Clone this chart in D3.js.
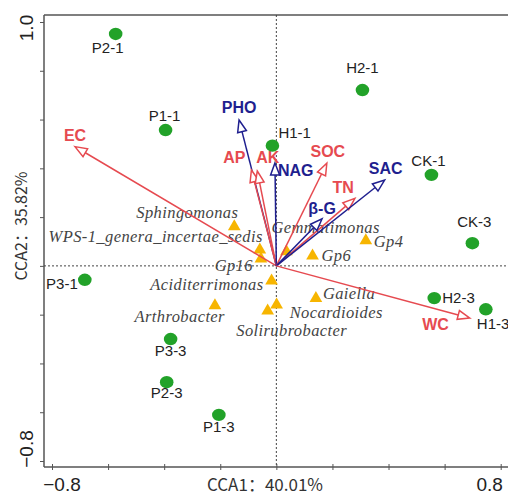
<!DOCTYPE html>
<html>
<head>
<meta charset="utf-8">
<script src="https://cdn.jsdelivr.net/npm/d3@7/dist/d3.min.js"></script>
<style>
body { margin: 0; background: #fff; }
</style>
</head>
<body>
<svg id="chart" width="508" height="495"></svg>
<script>
// samples (green dots)
const sites = ["P2-1", "P1-1", "H2-1", "H1-1", "CK-1", "CK-3", "P3-1", "P3-3", "P2-3", "P1-3", "H2-3", "H1-3"];
const siteCCA1 = [-0.573, -0.395, 0.307, -0.014, 0.553, 0.699, -0.683, -0.377, -0.391, -0.205, 0.563, 0.747];
const siteCCA2 = [0.951, 0.557, 0.721, 0.493, 0.373, 0.093, -0.057, -0.300, -0.477, -0.611, -0.132, -0.178];

// genera (orange triangles)
const genera = ["Sphingomonas", "WPS-1_genera_incertae_sedis", "Gp16", "Gemmatimonas", "Gp6", "Gp4",
  "Aciditerrimonas", "Gaiella", "Nocardioides", "Solirubrobacter", "Arthrobacter"];
const genusCCA1 = [-0.150, -0.059, -0.055, 0.036, 0.129, 0.319, -0.017, 0.141, 0.001, -0.031, -0.219];
const genusCCA2 = [0.161, 0.066, 0.029, 0.059, 0.041, 0.104, -0.061, -0.133, -0.160, -0.184, -0.163];

// environmental factors (arrows)
const factors = ["EC", "PHO", "AP", "AK", "NAG", "SOC", "TN", "β-G", "SAC", "WC"];
const factorCCA1 = [-0.718, -0.133, -0.089, -0.068, -0.005, 0.180, 0.280, 0.163, 0.386, 0.690];
const factorCCA2 = [0.489, 0.598, 0.393, 0.389, 0.422, 0.421, 0.277, 0.193, 0.352, -0.214];
const factorType = ["soil", "enzyme", "soil", "soil", "enzyme", "soil", "soil", "enzyme", "enzyme", "soil"];

const xTicks = [-0.8, -0.6, -0.4, -0.2, 0, 0.2, 0.4, 0.6, 0.8];
const yTicks = [-0.8, -0.6, -0.4, -0.2, 0, 0.2, 0.4, 0.6, 0.8, 1.0];
const xTitle = "CCA1：40.01%";
const yTitle = "CCA2：35.82%";

// label placement: [dx, dy, anchor]
const siteLabelPos = [[-8, 19, "middle"], [-1, -9, "middle"], [0, -17, "middle"], [6, -8, "start"],
  [-3, -9, "middle"], [2, -16, "middle"], [-7, 9, "end"], [0, 17, "middle"], [0, 16, "middle"],
  [0, 17, "middle"], [8, 5, "start"], [-9, 20, "start"]];
const genusLabelPos = [[4, -9, "end"], [3, -8, "end"], [-8, 12, "end"], [-15, -18, "start"], [9, 5, "start"],
  [8, 6, "start"], [-8, 9, "end"], [7, 1, "start"], [13, 13, "start"], [24, 25, "middle"], [10, 16, "end"]];
const factorLabelPos = [[0, -6, "middle"], [0, -7, "middle"], [-6, -7, "end"], [-1, -8, "start"],
  [3, 13, "start"], [1, -6, "middle"], [-1, -5, "end"], [0, -5, "middle"], [1, -6, "middle"], [-21, 12, "end"]];

const colors = { soil: "#e64a50", enzyme: "#1f1f8f", site: "#22a229", genus: "#f7b500" };

const plotLeft = 44, plotTop = 15, plotBottom = 467, plotRight = 508;

const svg = d3.select("#chart");

const x = d3.scaleLinear().domain([-0.8, 0.8]).range([52, 500.7]);
const y = d3.scaleLinear().domain([-0.8, 1.0]).range([461, 22]);

// axes
svg.append("g")
  .attr("transform", `translate(0,${plotBottom})`)
  .call(d3.axisBottom(x).tickValues(xTicks).tickSize(3).tickFormat(""))
  .call(g => g.select(".domain").attr("d", `M${plotLeft},0H${plotRight}`).attr("stroke", "#555").attr("stroke-width", 1.5))
  .call(g => g.selectAll(".tick line").attr("stroke", "#555").attr("y1", -3));

svg.append("g")
  .attr("transform", `translate(${plotLeft},0)`)
  .call(d3.axisLeft(y).tickValues(yTicks).tickSize(4).tickFormat(""))
  .call(g => g.select(".domain").attr("d", `M0,${plotTop}V${plotBottom}`).attr("stroke", "#555").attr("stroke-width", 1.5))
  .call(g => g.selectAll(".tick line").attr("stroke", "#555"));

svg.append("line")
  .attr("x1", plotLeft).attr("x2", plotRight).attr("y1", plotTop).attr("y2", plotTop)
  .attr("stroke", "#555").attr("stroke-width", 1.5);

// tick labels at the ends only
const tickFont = "'Liberation Sans', Arial, sans-serif";
[[xTicks[0], 10], [xTicks[xTicks.length - 1], -11]].forEach(([v, dx]) => {
  svg.append("text")
    .attr("x", x(v) + dx).attr("y", 491)
    .attr("text-anchor", "middle")
    .attr("font-family", tickFont).attr("font-size", 19).attr("fill", "#222")
    .text(d3.format(".1f")(v));
});
[[yTicks[yTicks.length - 1], 6], [yTicks[0], -12]].forEach(([v, dy]) => {
  svg.append("text")
    .attr("transform", `translate(33,${y(v) + dy}) rotate(-90)`)
    .attr("text-anchor", "middle")
    .attr("font-family", tickFont).attr("font-size", 19).attr("fill", "#222")
    .text(d3.format(".1f")(v));
});

// axis titles
svg.append("text")
  .attr("x", 265).attr("y", 491)
  .attr("text-anchor", "middle")
  .attr("font-family", "'Noto Sans CJK SC', sans-serif").attr("font-size", 17).attr("fill", "#333")
  .text(xTitle);
svg.append("text")
  .attr("transform", `translate(27,226) rotate(-90)`)
  .attr("text-anchor", "middle")
  .attr("font-family", "'Noto Sans CJK SC', sans-serif").attr("font-size", 16).attr("fill", "#333")
  .text(yTitle);

// zero lines
svg.append("line")
  .attr("x1", plotLeft).attr("x2", plotRight).attr("y1", y(0)).attr("y2", y(0))
  .attr("stroke", "#444").attr("stroke-dasharray", "2,2");
svg.append("line")
  .attr("x1", x(0)).attr("x2", x(0)).attr("y1", plotTop).attr("y2", plotBottom)
  .attr("stroke", "#444").attr("stroke-dasharray", "2,2");

// genera triangles
const tri = d3.symbol().type(d3.symbolTriangle).size(70);
const genusData = genera.map((name, i) => ({ name, cx: genusCCA1[i], cy: genusCCA2[i], pos: genusLabelPos[i] }));
svg.append("g").selectAll("path")
  .data(genusData)
  .join("path")
  .attr("transform", d => `translate(${x(d.cx)},${y(d.cy)})`)
  .attr("d", tri)
  .attr("fill", colors.genus);

svg.append("g").selectAll("text")
  .data(genusData)
  .join("text")
  .attr("x", d => x(d.cx) + d.pos[0])
  .attr("y", d => y(d.cy) + d.pos[1])
  .attr("text-anchor", d => d.pos[2])
  .attr("font-family", "'Liberation Serif', 'Times New Roman', serif")
  .attr("font-style", "italic").attr("font-size", 16.5).attr("letter-spacing", 0.4).attr("fill", "#444")
  .text(d => d.name);

// arrows
const headLen = 12, headHalf = 4.5;
const factorData = factors.map((name, i) => ({ name, vx: factorCCA1[i], vy: factorCCA2[i], type: factorType[i], pos: factorLabelPos[i] }));
const arrows = svg.append("g").selectAll("g")
  .data(factorData)
  .join("g");

arrows.each(function (d) {
  const g = d3.select(this);
  const x0 = x(0), y0 = y(0), x1 = x(d.vx), y1 = y(d.vy);
  const len = Math.hypot(x1 - x0, y1 - y0);
  const ux = (x1 - x0) / len, uy = (y1 - y0) / len;
  const bx = x1 - ux * headLen, by = y1 - uy * headLen;
  const c = colors[d.type];
  g.append("line")
    .attr("x1", x0).attr("y1", y0).attr("x2", bx).attr("y2", by)
    .attr("stroke", c).attr("stroke-width", 1.5);
  g.append("path")
    .attr("d", d3.line()([[x1, y1], [bx - uy * headHalf, by + ux * headHalf], [bx + uy * headHalf, by - ux * headHalf]]) + "Z")
    .attr("fill", "#fff").attr("stroke", c).attr("stroke-width", 1.5);
});

svg.append("g").selectAll("text")
  .data(factorData)
  .join("text")
  .attr("x", d => x(d.vx) + d.pos[0])
  .attr("y", d => y(d.vy) + d.pos[1])
  .attr("text-anchor", d => d.pos[2])
  .attr("font-family", "'Liberation Sans', Arial, sans-serif")
  .attr("font-weight", "bold").attr("font-size", 16)
  .attr("fill", d => colors[d.type])
  .text(d => d.name);

// samples
const siteData = sites.map((name, i) => ({ name, cx: siteCCA1[i], cy: siteCCA2[i], pos: siteLabelPos[i] }));
svg.append("g").selectAll("ellipse")
  .data(siteData)
  .join("ellipse")
  .attr("cx", d => x(d.cx)).attr("cy", d => y(d.cy))
  .attr("rx", 6.8).attr("ry", 6.2)
  .attr("fill", colors.site);

svg.append("g").selectAll("text")
  .data(siteData)
  .join("text")
  .attr("x", d => x(d.cx) + d.pos[0])
  .attr("y", d => y(d.cy) + d.pos[1])
  .attr("text-anchor", d => d.pos[2])
  .attr("font-family", "'Liberation Sans', Arial, sans-serif")
  .attr("font-size", 15).attr("fill", "#222")
  .text(d => d.name);
</script>
</body>
</html>
